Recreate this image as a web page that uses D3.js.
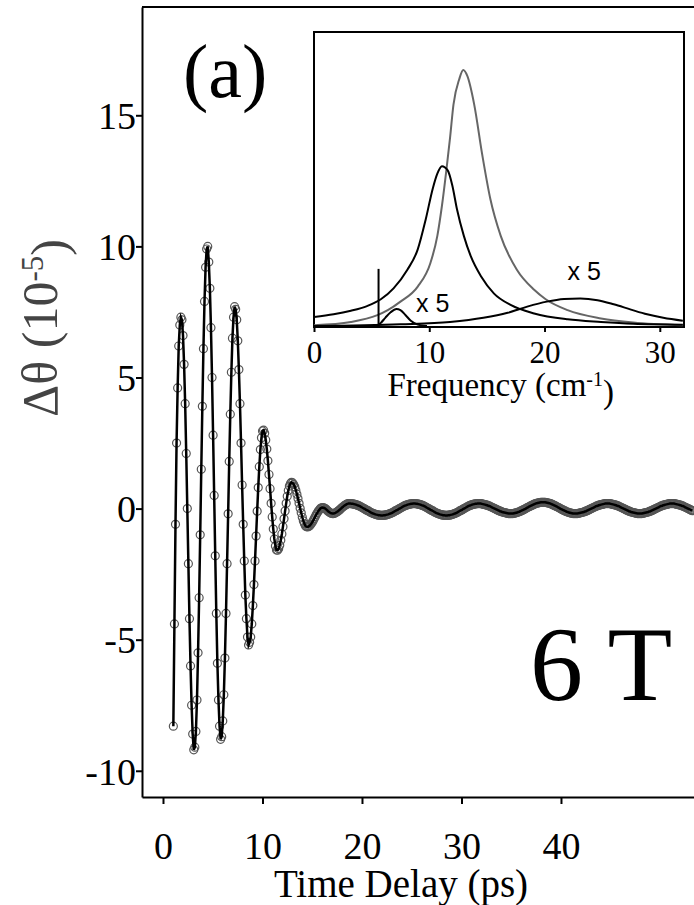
<!DOCTYPE html>
<html>
<head>
<meta charset="utf-8">
<script src="https://cdn.jsdelivr.net/npm/d3@7"></script>
<style>
  body { margin: 0; background: #fff; }
  svg { display: block; }
  text { font-family: "Liberation Serif", "Times New Roman", serif; fill: #000; }
</style>
</head>
<body>
<div id="chart"></div>
<script>
// Kerr rotation trace, one point every delayStep ps starting at delayStart
const delayStart = 1.04;
const delayStep = 0.108;
const signal = [
  -8.3, -4.4, -0.6, 2.5, 4.6, 6.2, 7.0, 7.3, 7.2, 6.6,
  5.5, 4.0, 2.1, 0.0, -2.1, -4.2, -6.0, -7.5, -8.6, -9.2,
  -9.1, -8.5, -7.3, -5.5, -3.4, -1.0, 1.5, 3.9, 6.1, 7.9,
  9.2, 9.9, 10.0, 9.4, 8.4, 6.9, 5.0, 2.8, 0.5, -1.8,
  -4.0, -5.9, -7.3, -8.3, -8.8, -8.7, -8.1, -7.1, -5.7, -4.0,
  -2.1, -0.2, 1.8, 3.6, 5.2, 6.5, 7.3, 7.7, 7.6, 7.2,
  6.4, 5.3, 4.0, 2.5, 0.9, -0.6, -2.0, -3.3, -4.2, -4.9,
  -5.2, -5.1, -4.9, -4.4, -3.7, -2.9, -2.0, -1.05, -0.1, 0.8,
  1.6, 2.25, 2.7, 2.96, 2.99, 2.87, 2.62, 2.27, 1.82, 1.3,
  0.76, 0.2, -0.32, -0.78, -1.16, -1.43, -1.58, -1.59, -1.53, -1.4,
  -1.21, -0.97, -0.69, -0.39, -0.09, 0.2, 0.47, 0.69, 0.86, 0.96,
  1.0, 0.98, 0.92, 0.83, 0.7, 0.55, 0.38, 0.2, 0.01, -0.16,
  -0.33, -0.47, -0.58, -0.66, -0.69, -0.7, -0.68, -0.65, -0.6, -0.54,
  -0.47, -0.39, -0.31, -0.23, -0.16, -0.09, -0.04, 0.01, 0.03, 0.04,
  0.03, 0.01, -0.02, -0.06, -0.1, -0.13, -0.16, -0.18, -0.19, -0.19,
  -0.18, -0.16, -0.13, -0.11, -0.07, -0.04, 0.0, 0.04, 0.07, 0.11,
  0.13, 0.16, 0.18, 0.19, 0.19, 0.19, 0.18, 0.18, 0.17, 0.16,
  0.15, 0.13, 0.12, 0.1, 0.08, 0.06, 0.03, 0.01, -0.01, -0.04,
  -0.06, -0.08, -0.1, -0.13, -0.15, -0.17, -0.19, -0.2, -0.22, -0.23,
  -0.24, -0.25, -0.25, -0.26, -0.26, -0.26, -0.25, -0.25, -0.24, -0.23,
  -0.22, -0.2, -0.19, -0.17, -0.15, -0.13, -0.1, -0.08, -0.06, -0.04,
  -0.01, 0.01, 0.03, 0.06, 0.08, 0.1, 0.12, 0.13, 0.15, 0.16,
  0.17, 0.18, 0.18, 0.19, 0.19, 0.19, 0.18, 0.18, 0.17, 0.16,
  0.15, 0.13, 0.12, 0.1, 0.08, 0.06, 0.03, 0.01, -0.01, -0.04,
  -0.06, -0.08, -0.1, -0.13, -0.15, -0.17, -0.19, -0.2, -0.22, -0.23,
  -0.24, -0.25, -0.25, -0.26, -0.26, -0.26, -0.25, -0.25, -0.24, -0.23,
  -0.22, -0.2, -0.19, -0.17, -0.15, -0.13, -0.1, -0.08, -0.06, -0.04,
  -0.01, 0.01, 0.03, 0.06, 0.08, 0.1, 0.12, 0.13, 0.15, 0.16,
  0.17, 0.18, 0.18, 0.19, 0.19, 0.19, 0.19, 0.18, 0.17, 0.16,
  0.15, 0.14, 0.13, 0.11, 0.1, 0.08, 0.06, 0.04, 0.02, 0.0,
  -0.02, -0.04, -0.06, -0.08, -0.1, -0.11, -0.13, -0.14, -0.15, -0.16,
  -0.17, -0.18, -0.19, -0.19, -0.19, -0.19, -0.19, -0.18, -0.17, -0.16,
  -0.15, -0.13, -0.12, -0.1, -0.08, -0.06, -0.04, -0.02, 0.0, 0.03,
  0.05, 0.07, 0.09, 0.11, 0.13, 0.15, 0.17, 0.19, 0.2, 0.21,
  0.22, 0.23, 0.24, 0.24, 0.24, 0.24, 0.24, 0.23, 0.22, 0.21,
  0.2, 0.19, 0.17, 0.15, 0.13, 0.11, 0.09, 0.07, 0.05, 0.03,
  0.0, -0.02, -0.04, -0.06, -0.08, -0.1, -0.12, -0.13, -0.15, -0.16,
  -0.17, -0.18, -0.19, -0.19, -0.19, -0.19, -0.19, -0.18, -0.17, -0.16,
  -0.15, -0.14, -0.13, -0.11, -0.1, -0.08, -0.06, -0.04, -0.02, 0.0,
  0.02, 0.04, 0.06, 0.08, 0.1, 0.11, 0.13, 0.14, 0.15, 0.16,
  0.17, 0.18, 0.19, 0.19, 0.19, 0.19, 0.19, 0.18, 0.17, 0.16,
  0.15, 0.14, 0.13, 0.11, 0.1, 0.08, 0.06, 0.04, 0.02, 0.0,
  -0.02, -0.04, -0.06, -0.08, -0.1, -0.11, -0.13, -0.14, -0.15, -0.16,
  -0.17, -0.18, -0.19, -0.19, -0.19, -0.19, -0.19, -0.18, -0.17, -0.16,
  -0.15, -0.14, -0.13, -0.11, -0.1, -0.08, -0.06, -0.04, -0.02, 0.0,
  0.02, 0.04, 0.06, 0.08, 0.1, 0.11, 0.13, 0.14, 0.15, 0.16,
  0.17, 0.18, 0.19, 0.19, 0.19, 0.19, 0.19, 0.18, 0.17, 0.16,
  0.15, 0.14, 0.13, 0.11, 0.1, 0.08, 0.06, 0.04, 0.02, 0.0,
  -0.02, -0.04, -0.06, -0.08
];
const delayTicks = [0, 10, 20, 30, 40];
const signalTicks = [-10, -5, 0, 5, 10, 15];

// inset: Fourier spectra (frequency in cm-1, amplitude in arb. units)
const fftFreq = [0, 3.2, 5.5, 6.4, 7.5, 9.0, 10.1, 10.7, 11.1, 11.5, 11.8, 12.1, 12.6, 12.95, 13.3, 13.9, 14.6, 15.3, 16.2, 17.6, 19.1, 20.1, 22.0, 24.9, 27.7, 32.0];
const fftAmp = [0.6, 1.7, 4.0, 5.7, 8.6, 13.7, 21.7, 30.9, 41.1, 53.7, 64.0, 75.4, 84.0, 87.1, 85.1, 75.4, 58.3, 43.4, 30.9, 19.4, 12.6, 9.4, 5.7, 2.9, 1.5, 0.6];
const fitFreq = [0, 1.7, 3.2, 4.6, 5.8, 6.9, 8.1, 9.0, 9.7, 10.3, 10.7, 11.1, 11.6, 12.0, 12.4, 13.0, 13.6, 14.5, 15.6, 17.1, 19.1, 22.0, 24.9, 27.7, 32.0];
const fitAmp = [3.4, 4.3, 5.5, 7.1, 9.4, 13.1, 19.4, 26.3, 36.6, 46.9, 52.0, 54.5, 53.1, 48.0, 40.0, 30.9, 24.0, 17.1, 11.4, 7.4, 4.6, 2.6, 1.7, 1.1, 0.8];
const lowModeFreq = [5.35, 5.8, 6.2, 6.65, 7.15, 7.5, 7.95, 8.4, 9.0, 9.8];
const lowModeAmp = [0.3, 1.4, 3.2, 5.0, 6.1, 5.7, 4.0, 2.1, 0.8, 0.3];
const highModeFreq = [0, 7.5, 11.8, 14.7, 16.8, 18.5, 20.2, 21.7, 23.1, 24.6, 26.0, 27.5, 28.9, 30.3, 32.0];
const highModeAmp = [0.3, 0.9, 1.7, 3.1, 4.8, 6.9, 8.6, 9.5, 9.7, 9.1, 7.7, 5.9, 4.3, 3.1, 2.1];
const sharpLineFreq = 5.6;
const sharpLineAmp = 19.7;
const freqTicks = [0, 10, 20, 30];

const width = 694, height = 905;
const svg = d3.select("#chart").append("svg")
  .attr("width", width)
  .attr("height", height);

// main panel
const x = d3.scaleLinear().domain([-2.11, 53.37]).range([142, 694]);
const y = d3.scaleLinear().domain([-11, 19.13]).range([797, 7]);

const points = signal.map((v, i) => ({ t: delayStart + i * delayStep, v: v }));

svg.append("line")
  .attr("x1", x.range()[0]).attr("x2", x.range()[1])
  .attr("y1", y.range()[1]).attr("y2", y.range()[1])
  .attr("stroke", "#000").attr("stroke-width", 2);

const xAxis = svg.append("g")
  .attr("transform", `translate(0,${y.range()[0]})`)
  .call(d3.axisBottom(x).tickValues(delayTicks).tickFormat((d) => String(d))
    .tickSize(7).tickSizeOuter(0).tickPadding(28));
const yAxis = svg.append("g")
  .attr("transform", `translate(${x.range()[0]},0)`)
  .call(d3.axisLeft(y).tickValues(signalTicks).tickFormat((d) => String(d))
    .tickSize(6).tickSizeOuter(0).tickPadding(0));

[xAxis, yAxis].forEach((g) => {
  g.select(".domain").attr("stroke-width", 2);
  g.selectAll(".tick line").attr("stroke-width", 2);
  g.selectAll("text")
    .style("font-family", "Liberation Serif, serif")
    .style("font-size", "38px")
    .attr("fill", "#000");
});
yAxis.selectAll("text").attr("dy", "0.35em");

svg.append("text")
  .attr("x", 401).attr("y", 897)
  .attr("text-anchor", "middle")
  .style("font-size", "39px")
  .text("Time Delay (ps)");

const yTitle = svg.append("text")
  .attr("transform", "translate(57,328) rotate(-90)")
  .attr("text-anchor", "middle")
  .style("font-size", "50px")
  .style("fill", "#444");
yTitle.append("tspan").text("Δθ (10");
yTitle.append("tspan").attr("dy", "-0.45em").style("font-size", "31px").text("-5");
yTitle.append("tspan").attr("dy", "0.45em").text(")");

svg.append("g")
  .selectAll("circle")
  .data(points)
  .join("circle")
  .attr("cx", (d) => x(d.t))
  .attr("cy", (d) => y(d.v))
  .attr("r", 4)
  .attr("fill", "none")
  .attr("stroke", "#555")
  .attr("stroke-width", 1.2);

svg.append("path")
  .datum(points)
  .attr("fill", "none")
  .attr("stroke", "#000")
  .attr("stroke-width", 2.5)
  .attr("d", d3.line().x((d) => x(d.t)).y((d) => y(d.v)));

svg.append("text")
  .attr("x", 183).attr("y", 97)
  .style("font-size", "76px")
  .text("(a)");

svg.append("text")
  .attr("x", 530).attr("y", 700)
  .style("font-size", "106px")
  .text("6 T");

// inset
const ix = d3.scaleLinear().domain([0, 32.1]).range([314, 684]);
const iy = d3.scaleLinear().domain([0, 100]).range([327, 32]);

svg.append("rect")
  .attr("x", 314).attr("y", 32)
  .attr("width", 684 - 314).attr("height", 327 - 32)
  .attr("fill", "#fff")
  .attr("stroke", "#000")
  .attr("stroke-width", 2);

svg.append("clipPath").attr("id", "insetClip")
  .append("rect")
  .attr("x", 314).attr("y", 32)
  .attr("width", 684 - 314).attr("height", 327 - 32);

const insetLine = d3.line()
  .x((d) => ix(d[0]))
  .y((d) => iy(d[1]))
  .curve(d3.curveMonotoneX);

const spectra = [
  { f: fftFreq, a: fftAmp, color: "#666" },
  { f: fitFreq, a: fitAmp, color: "#000" },
  { f: highModeFreq, a: highModeAmp, color: "#000" },
  { f: lowModeFreq, a: lowModeAmp, color: "#000" },
];

const insetG = svg.append("g").attr("clip-path", "url(#insetClip)");
spectra.forEach((s) => {
  insetG.append("path")
    .datum(s.f.map((f, i) => [f, s.a[i]]))
    .attr("fill", "none")
    .attr("stroke", s.color)
    .attr("stroke-width", 2)
    .attr("d", insetLine);
});

insetG.append("line")
  .attr("x1", ix(sharpLineFreq)).attr("x2", ix(sharpLineFreq))
  .attr("y1", iy(0)).attr("y2", iy(sharpLineAmp))
  .attr("stroke", "#000")
  .attr("stroke-width", 2);

const insetAxis = svg.append("g")
  .attr("transform", `translate(0,${iy(0)})`)
  .call(d3.axisBottom(ix).tickValues(freqTicks).tickSize(5).tickSizeOuter(0).tickPadding(9));
insetAxis.select(".domain").remove();
insetAxis.selectAll(".tick line").attr("stroke-width", 2);
insetAxis.selectAll("text")
  .style("font-family", "Liberation Serif, serif")
  .style("font-size", "31px")
  .attr("fill", "#000");

const fLabel = svg.append("text")
  .attr("x", ix(16.2)).attr("y", 396)
  .attr("text-anchor", "middle")
  .style("font-size", "33px");
fLabel.append("tspan").text("Frequency (cm");
fLabel.append("tspan").attr("dy", "-0.5em").style("font-size", "20px").text("-1");
fLabel.append("tspan").attr("dy", "0.5em").text(")");

[[8.85, 5.1], [22.0, 16.0]].forEach((p) => {
  svg.append("text")
    .attr("x", ix(p[0])).attr("y", iy(p[1]))
    .style("font-family", "Liberation Sans, Arial, sans-serif")
    .style("font-size", "25px")
    .text("x 5");
});
</script>
</body>
</html>
